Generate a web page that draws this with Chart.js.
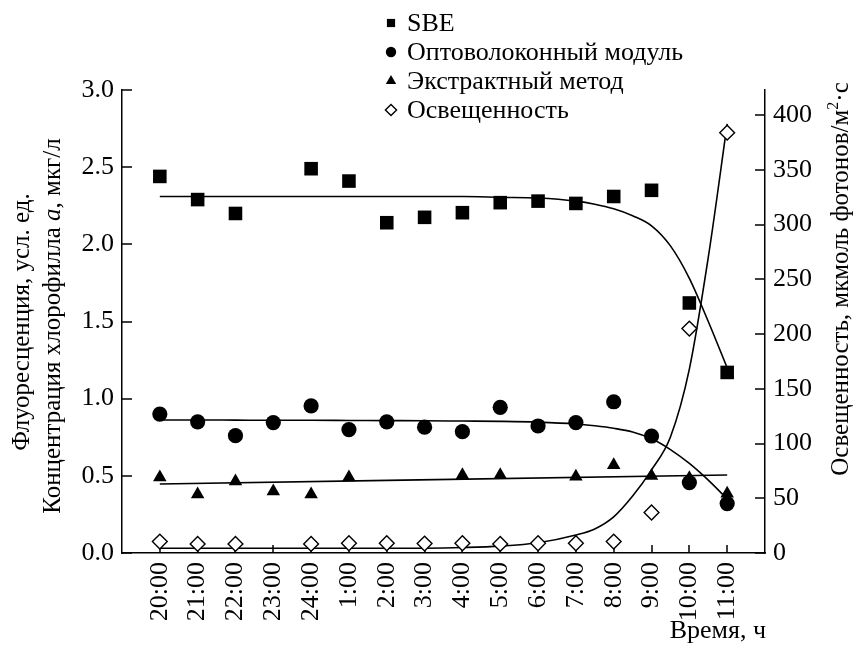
<!DOCTYPE html>
<html>
<head>
<meta charset="utf-8">
<script src="https://cdn.jsdelivr.net/npm/chart.js@4.4.1/dist/chart.umd.min.js"></script>
<style>
  html, body { margin: 0; padding: 0; background: #fff; }
  #wrap { width: 855px; height: 651px; }
</style>
</head>
<body>
<div id="wrap"><canvas id="c" width="855" height="651"></canvas></div>
<script>
// Hourly sampling, evening to late morning
const hours = ['20:00','21:00','22:00','23:00','24:00','1:00','2:00','3:00',
               '4:00','5:00','6:00','7:00','8:00','9:00','10:00','11:00'];

// Measured values (null = no measurement at that hour)
const sbe     = [2.44, 2.29, 2.20, null, 2.49, 2.41, 2.14, 2.175, 2.205, 2.27, 2.28, 2.265, 2.31, 2.35, 1.62, 1.17];
const fiber   = [0.90, 0.85, 0.76, 0.845, 0.953, 0.80, 0.85, 0.815, 0.786, 0.944, 0.823, 0.845, 0.98, 0.758, 0.456, 0.32];
const extract = [0.49, 0.38, 0.465, 0.40, 0.38, 0.49, null, null, 0.505, 0.505, null, 0.495, 0.57, 0.50, 0.485, 0.385];
const light   = [10.4, 8.3, 8.3, null, 8.3, 8.9, 8.9, 8.6, 8.9, 8.3, 8.9, 8.9, 10.4, 37, 205, 384];

// Approximating curves; positions in hours from 20:00 (half-hour steps where they bend)
const fitAt    = [0, 1, 2, 3, 4, 5, 6, 7, 8, 9, 10, 11, 11.5, 12, 12.5, 13, 13.5, 14, 14.5, 15];
const sbeFit   = [2.31, 2.31, 2.31, 2.31, 2.31, 2.31, 2.31, 2.31, 2.31, 2.305, 2.30, 2.28, 2.26, 2.23, 2.185, 2.12, 1.99, 1.78, 1.50, 1.20];
const fiberFit = [0.862, 0.862, 0.861, 0.86, 0.86, 0.859, 0.858, 0.857, 0.855, 0.853, 0.848, 0.836, 0.824, 0.808, 0.784, 0.74, 0.67, 0.58, 0.472, 0.35];
const lightFit = [4.3, 4.3, 4.3, 4.3, 4.3, 4.3, 4.3, 4.4, 5.0, 6.3, 9.4, 16.5, 22, 33, 52, 76, 106, 168, 270, 392];
const extractFitEnds = [0.447, 0.505];   // straight trend line, first and last hour

// Axis tick values
const leftTicks  = [0, 0.5, 1.0, 1.5, 2.0, 2.5, 3.0];
const rightTicks = [0, 50, 100, 150, 200, 250, 300, 350, 400];

const labels = {
  sbe: 'SBE',
  fiber: 'Оптоволоконный модуль',
  extract: 'Экстрактный метод',
  light: 'Освещенность'
};

const SERIF = '"Liberation Serif", "Times New Roman", serif';
Chart.defaults.font.family = SERIF;
Chart.defaults.color = '#000';

const toXY = arr => arr.map((v, i) => v == null ? null : { x: i, y: v }).filter(Boolean);
const fitXY = arr => arr.map((v, i) => ({ x: fitAt[i], y: v }));

const markerBase = { showLine: false, borderColor: '#000', backgroundColor: '#000', borderWidth: 0, order: 1 };
const fitBase = { showLine: true, pointRadius: 0, borderColor: '#000', borderWidth: 1.6,
                  cubicInterpolationMode: 'monotone', fill: false, order: 2 };

const datasets = [
  { ...fitBase, data: fitXY(sbeFit), yAxisID: 'y' },
  { ...fitBase, data: fitXY(fiberFit), yAxisID: 'y' },
  { ...fitBase, data: [{ x: 0, y: extractFitEnds[0] }, { x: hours.length - 1, y: extractFitEnds[1] }], yAxisID: 'y' },
  { ...fitBase, data: fitXY(lightFit), yAxisID: 'y2' },
  { ...markerBase, label: labels.sbe, data: toXY(sbe), yAxisID: 'y',
    pointStyle: 'rect', pointRadius: 9.6, legendRadius: 5.8 },
  { ...markerBase, label: labels.fiber, data: toXY(fiber), yAxisID: 'y',
    pointStyle: 'circle', pointRadius: 7.6, legendRadius: 5.2 },
  { ...markerBase, label: labels.extract, data: toXY(extract), yAxisID: 'y',
    pointStyle: 'triangle', pointRadius: 7.8, legendRadius: 6 },
  { ...markerBase, label: labels.light, data: toXY(light), yAxisID: 'y2',
    pointStyle: 'rectRot', pointRadius: 7.4, legendRadius: 5.6,
    backgroundColor: '#fff', borderWidth: 1.4 }
];

// Short tick marks pointing into the plot area
const innerTicks = {
  id: 'innerTicks',
  beforeDatasetsDraw(chart) {
    const { ctx, chartArea: a, scales } = chart;
    ctx.save();
    ctx.strokeStyle = '#000';
    ctx.lineWidth = 1.5;
    ctx.beginPath();
    scales.x.ticks.forEach(t => {
      const px = Math.round(scales.x.getPixelForValue(t.value));
      ctx.moveTo(px, a.bottom); ctx.lineTo(px, a.bottom - 8);
    });
    scales.y.ticks.forEach(t => {
      const py = Math.round(scales.y.getPixelForValue(t.value));
      ctx.moveTo(a.left, py); ctx.lineTo(a.left + 10, py);
    });
    scales.y2.ticks.forEach(t => {
      const py = Math.round(scales.y2.getPixelForValue(t.value));
      ctx.moveTo(a.right, py); ctx.lineTo(a.right - 10, py);
    });
    ctx.stroke();
    ctx.restore();
  }
};

// Vertical list of marker symbols and series names above the plot
const seriesKey = {
  id: 'seriesKey',
  afterDraw(chart) {
    const { ctx } = chart;
    const items = chart.data.datasets.filter(d => d.label);
    const x0 = 391, y0 = 23, step = 29;
    ctx.save();
    ctx.font = '26px ' + SERIF;
    ctx.textBaseline = 'middle';
    ctx.textAlign = 'left';
    items.forEach((d, i) => {
      const y = y0 + i * step;
      ctx.fillStyle = d.backgroundColor;
      ctx.strokeStyle = d.borderColor;
      ctx.lineWidth = d.borderWidth || 0.01;
      Chart.helpers.drawPoint(ctx, { pointStyle: d.pointStyle, radius: d.legendRadius, borderWidth: d.borderWidth, rotation: 0 }, x0, y);
      ctx.fillStyle = '#000';
      ctx.fillText(d.label, 407, y + 1);
    });
    ctx.restore();
  }
};

// Axis titles: rotated side titles with mixed styles, and the time caption
function drawRotated(ctx, parts, baseX, centerY) {
  ctx.save();
  ctx.translate(baseX, centerY);
  ctx.rotate(-Math.PI / 2);
  ctx.textBaseline = 'alphabetic';
  ctx.textAlign = 'left';
  let total = 0;
  parts.forEach(p => { ctx.font = p.font; total += ctx.measureText(p.text).width; });
  let x = -total / 2;
  parts.forEach(p => {
    ctx.font = p.font;
    ctx.fillText(p.text, x, p.dy || 0);
    x += ctx.measureText(p.text).width;
  });
  ctx.restore();
}

const axisTitles = {
  id: 'axisTitles',
  afterDraw(chart) {
    const { ctx } = chart;
    const f = '25px ' + SERIF;
    const fi = 'italic 25px ' + SERIF;
    ctx.save();
    ctx.fillStyle = '#000';
    drawRotated(ctx, [{ text: 'Флуоресценция, усл. ед.', font: f }], 29, 322);
    drawRotated(ctx, [
      { text: 'Концентрация хлорофилла ', font: f },
      { text: 'a', font: fi },
      { text: ', мкг/л', font: f }
    ], 60, 326);
    drawRotated(ctx, [
      { text: 'Освещенность, мкмоль фотонов/м', font: f },
      { text: '2', font: '16px ' + SERIF, dy: -10 },
      { text: '·с', font: f }
    ], 848, 279);
    ctx.font = '26px ' + SERIF;
    ctx.textAlign = 'right';
    ctx.textBaseline = 'alphabetic';
    ctx.fillText('Время, ч', 766, 638);
    ctx.restore();
  }
};

const borderOpts = { display: true, color: '#000', width: 1.5 };

new Chart(document.getElementById('c'), {
  type: 'scatter',
  data: { datasets },
  options: {
    responsive: false,
    animation: false,
    devicePixelRatio: 1,
    layout: { padding: { top: 90, left: 0, right: 0, bottom: 0 } },
    plugins: { legend: { display: false }, tooltip: { enabled: false } },
    scales: {
      x: {
        type: 'linear', min: -1, max: hours.length,
        afterBuildTicks: s => { s.ticks = hours.map((_, i) => ({ value: i })); },
        afterFit: s => { s.height = 98; },
        ticks: { autoSkip: false, minRotation: 90, maxRotation: 90, padding: 9,
                 font: { size: 26 }, callback: v => hours[v] ?? '' },
        grid: { display: false, drawTicks: false },
        border: borderOpts
      },
      y: {
        position: 'left', min: 0, max: 3,
        afterBuildTicks: s => { s.ticks = leftTicks.map(v => ({ value: v })); },
        afterFit: s => { s.width = 122; },
        ticks: { padding: 8, font: { size: 26 }, callback: v => v.toFixed(1) },
        grid: { display: false, drawTicks: false },
        border: borderOpts
      },
      y2: {
        position: 'right', min: 0, max: 423,
        afterBuildTicks: s => { s.ticks = rightTicks.map(v => ({ value: v })); },
        afterFit: s => { s.width = 90; },
        ticks: { padding: 8, font: { size: 26 }, callback: v => String(v) },
        grid: { display: false, drawTicks: false },
        border: borderOpts
      }
    }
  },
  plugins: [innerTicks, seriesKey, axisTitles]
});
</script>
</body>
</html>
